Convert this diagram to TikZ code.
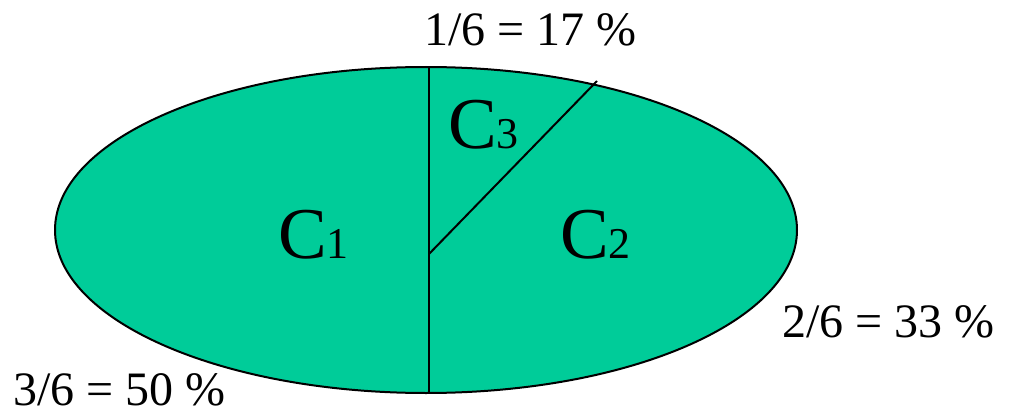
\documentclass[tikz,border=0pt]{standalone}
\usepackage{fontspec}
\setmainfont{Liberation Serif}
\usetikzlibrary{shapes.geometric}
\definecolor{sector}{HTML}{00CC99}
\tikzset{
  px/.style={x=1pt,y=-1pt},
  lbl/.style={inner sep=0pt,anchor=base west,font=\fontsize{48}{50}\selectfont},
  cls/.style={inner sep=0pt,anchor=base west,font=\fontsize{73}{75}\selectfont},
  edge/.style={line width=2pt,black}
}
\newcommand{\sub}[1]{{\fontsize{44}{46}\selectfont #1}}
\begin{document}
\begin{tikzpicture}[px]
\useasboundingbox (0,0) rectangle (1013,420);
\node[draw=black,line width=2pt,fill=sector,ellipse,minimum width=742pt,minimum height=326pt,inner sep=0pt] (ell) at (426,230) {};
\coordinate (top) at (429,67);
\coordinate (bot) at (429,393);
\coordinate (mid) at (429,254);
\coordinate (rim) at (597,81);
\draw[edge] (top) -- (bot);
\draw[edge] (mid) -- (rim);
\node[cls] (c1) at (278,258) {C\sub{1}};
\node[cls] (c2) at (560,258) {C\sub{2}};
\node[cls] (c3) at (448,149) {C\sub{3}};
\node[lbl] (l3) at (424,46) {1/6 = 17 \%};
\node[lbl] (l2) at (782,337) {2/6 = 33 \%};
\node[lbl] (l1) at (13,405) {3/6 = 50 \%};
\end{tikzpicture}
\end{document}
